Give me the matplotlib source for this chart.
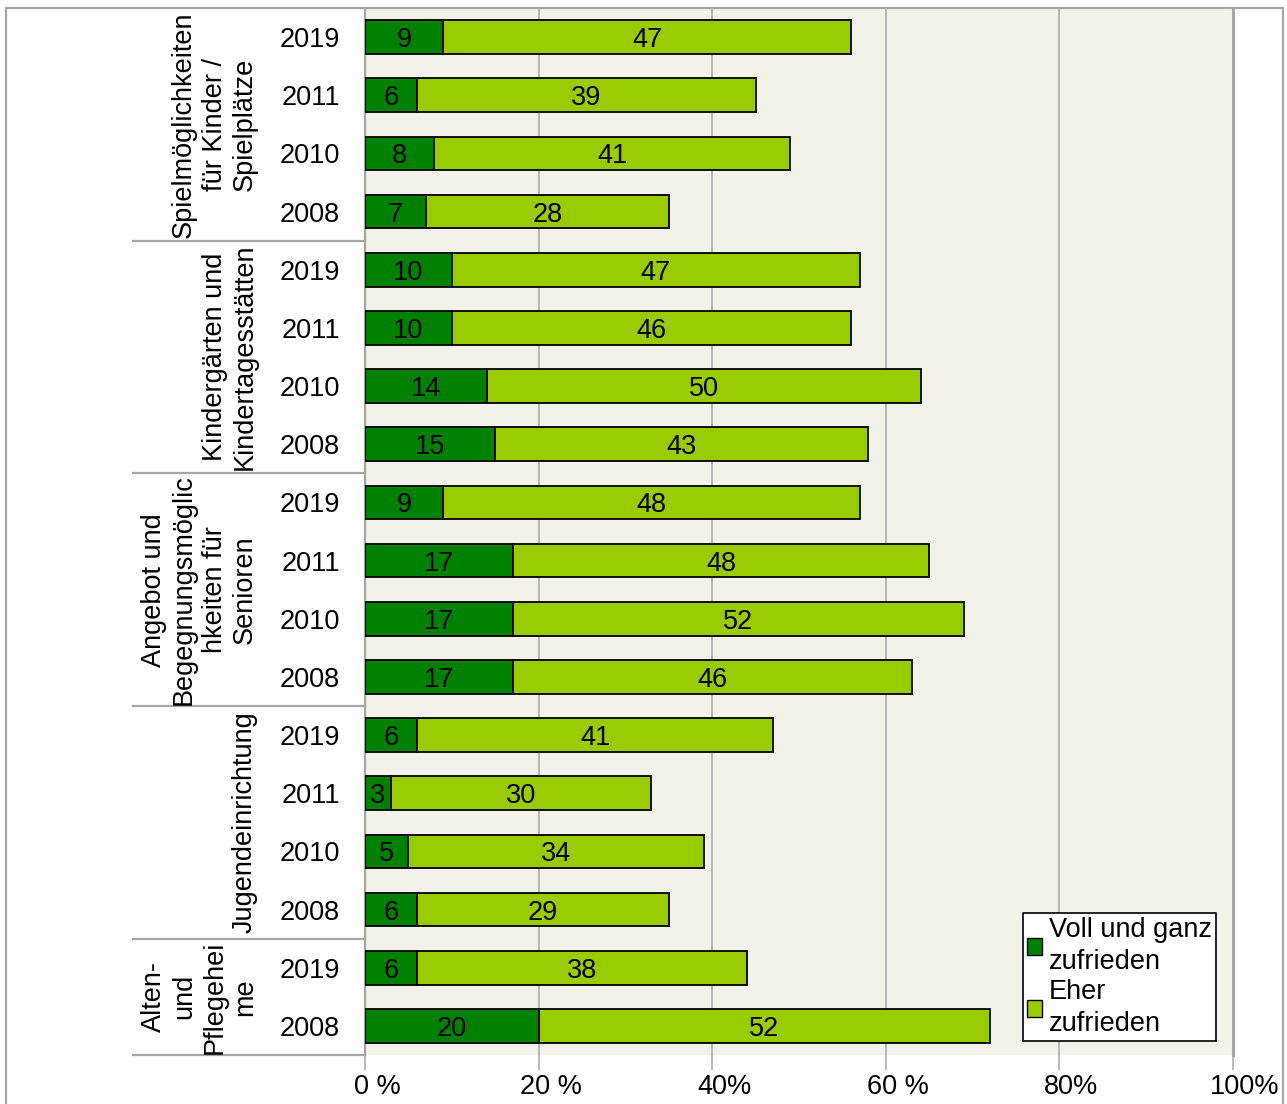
import numpy as np
import matplotlib
matplotlib.use("Agg")
import matplotlib.pyplot as plt
from matplotlib.patches import Patch, Rectangle
from matplotlib.transforms import blended_transform_factory, ScaledTranslation

plt.rcParams['font.family'] = ['Liberation Sans', 'DejaVu Sans']

# Daten
groups = ["Spielmöglichkeiten\nfür Kinder /\nSpielplätze",
          "Kindergärten und\nKindertagesstätten",
          "Angebot und\nBegegnungsmöglic\nhkeiten für\nSenioren",
          "Jugendeinrichtung",
          "Alten-\nund\nPflegehei\nme"]
years = [["2019", "2011", "2010", "2008"],
         ["2019", "2011", "2010", "2008"],
         ["2019", "2011", "2010", "2008"],
         ["2019", "2011", "2010", "2008"],
         ["2019", "2008"]]
voll = [[9, 6, 8, 7], [10, 10, 14, 15], [9, 17, 17, 17], [6, 3, 5, 6], [6, 20]]
eher = [[47, 39, 41, 28], [47, 46, 50, 43], [48, 48, 52, 46], [41, 30, 34, 29], [38, 52]]
xtick_labels = ["0 %", "20 %", "40%", "60 %", "80%", "100%"]
series_names = ["Voll und ganz\nzufrieden", "Eher\nzufrieden"]

c_dark = '#008000'
c_light = '#99CC00'
grey = '#A6A6A6'
fs = 19.5

fig = plt.figure(figsize=(12.87, 11.04), dpi=100)
W, H = 1287, 1104
ax = fig.add_axes([365 / W, 1 - 1055 / H, (1233 - 365) / W, (1055 - 8) / H])
ax.set_facecolor('#F2F1EA')

v_all = [v for g in voll for v in g]
e_all = [e for g in eher for e in g]
y_all = [y for g in years for y in g]
pos = np.arange(len(v_all))

ax.barh(pos, v_all, height=0.58, color=c_dark, edgecolor='black', linewidth=1.3, zorder=3)
ax.barh(pos, e_all, left=v_all, height=0.58, color=c_light, edgecolor='black', linewidth=1.3, zorder=3)

for p, v, e in zip(pos, v_all, e_all):
    ax.text(v / 2, p, str(v), ha='center', va='center_baseline', fontsize=fs, zorder=4)
    ax.text(v + e / 2, p, str(e), ha='center', va='center_baseline', fontsize=fs, zorder=4)

ax.set_xlim(0, 100)
ax.set_ylim(len(v_all) - 0.5, -0.5)
ax.set_xticks([0, 20, 40, 60, 80, 100])
ax.set_xticklabels(xtick_labels, fontsize=fs)
ax.tick_params(axis='x', length=11, width=1.1, color=grey, pad=3)
# Beschriftungen leicht nach rechts versetzt wie im Original
shift = ScaledTranslation(12 / 100, 0, fig.dpi_scale_trans)
for lbl in ax.get_xticklabels():
    lbl.set_transform(lbl.get_transform() + shift)
ax.set_yticks(pos)
ax.set_yticklabels(y_all, fontsize=fs, va='center_baseline')
ax.tick_params(axis='y', length=0, pad=18)

for gx in [20, 40, 60, 80]:
    ax.axvline(gx, color=grey, linewidth=1.1, zorder=1)
for s in ['top', 'bottom']:
    ax.spines[s].set_visible(False)
ax.spines['left'].set_color(grey)
ax.spines['left'].set_linewidth(1.6)
ax.spines['right'].set_color(grey)
ax.spines['right'].set_linewidth(2.2)

# Gruppenbeschriftung und Trennlinien
trans = blended_transform_factory(ax.transAxes, ax.transData)
x_sep = (133 - 365) / (1233 - 365)
x_lab = (258 - 365) / (1233 - 365)
start = 0
for name, g in zip(groups, voll):
    end = start + len(g)
    ax.plot([x_sep, 0], [end - 0.5, end - 0.5], color=grey, linewidth=1.6,
            transform=trans, clip_on=False)
    ax.text(x_lab, (start + end - 1) / 2, name, transform=trans, rotation=90,
            ha='right', va='center', multialignment='center', fontsize=fs,
            linespacing=1.22)
    start = end

# Legende
handles = [Patch(facecolor=c_dark, edgecolor='black', label=series_names[0]),
           Patch(facecolor=c_light, edgecolor='black', label=series_names[1])]
leg = ax.legend(handles=handles, loc='upper left',
                bbox_to_anchor=((1023 - 365) / 868, (1055 - 913) / 1047),
                fontsize=fs, frameon=True, fancybox=False, edgecolor='black',
                framealpha=1, handlelength=0.55, handleheight=0.55, handletextpad=0.25,
                borderpad=0.15, labelspacing=0.15, borderaxespad=0)
leg.get_frame().set_linewidth(1.2)
leg.set_zorder(5)
for t in leg.get_texts():
    t.set_linespacing(1.3)

# Rahmen
fig.add_artist(Rectangle((6 / W, -0.1), (1283 - 6) / W, 1.1 - 8 / H,
                         transform=fig.transFigure, fill=False,
                         edgecolor=grey, linewidth=1.6))

fig.savefig('out.png', dpi=100)
